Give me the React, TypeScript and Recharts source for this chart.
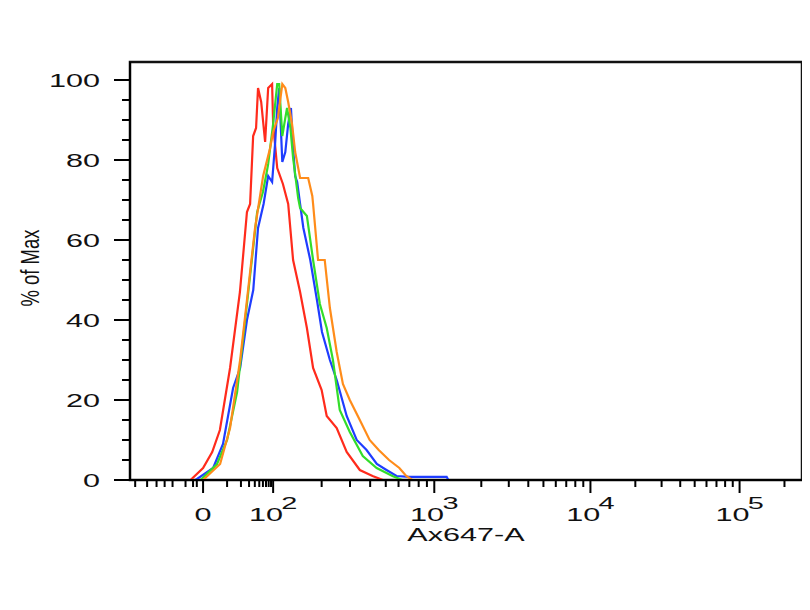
import * as React from 'react'
import { LineChart, Line, XAxis, YAxis, ReferenceArea } from 'recharts'

// histogram traces: [intensity, % of max]
const RED: [number, number][] = [
  [-100, 0], [-5, 0], [0, 3], [3.8, 7], [7, 12.5], [11.6, 28], [19, 47], [27, 67],
  [31.6, 69], [36.8, 86], [42.6, 88], [47, 98], [55, 94.5], [67, 84.5], [78, 98],
  [95, 99], [100, 89], [106, 78], [115, 74], [124, 69], [133, 55], [147, 47],
  [162, 38], [177, 28], [200, 22.5], [215, 16], [248, 13], [286, 7], [345, 2.5],
  [414, 1], [480, 0], [262144, 0],
]

const BLUE: [number, number][] = [
  [-100, 0], [-3, 0], [4.2, 3], [8.3, 9], [13.5, 23], [19.2, 28], [27, 40], [37, 47.5],
  [47, 63], [62, 69], [78, 76], [95, 74.5], [103, 84.5], [106, 93], [109, 98],
  [114, 79.5], [119, 82], [124, 89], [129, 93], [133, 83], [137, 76], [141, 74.5],
  [147, 69], [154, 63], [170, 55], [187, 45], [201, 37], [225, 30], [248, 25],
  [286, 16], [330, 10], [380, 7.5], [440, 4], [505, 2.5], [583, 1], [700, 0.8],
  [1200, 0.8], [1230, 0], [262144, 0],
]

const GREEN: [number, number][] = [
  [-100, 0], [-1, 0], [5.8, 4], [10, 10], [16.5, 22], [27, 44], [45, 67], [60, 72],
  [74, 77.5], [78, 79], [100, 89], [106, 99], [109, 99], [114, 86], [119, 90.5],
  [122, 93], [128, 88], [133, 80.5], [143, 70.5], [147, 68], [162, 66], [177, 55],
  [195, 44], [215, 38], [235, 30], [259, 17.5], [299, 12], [360, 6], [439, 3],
  [550, 1], [633, 0], [262144, 0],
]

const ORANGE: [number, number][] = [
  [-100, 0], [0, 0], [7.1, 4], [11.6, 13], [19.2, 30], [27, 45], [40.5, 63],
  [60.6, 76], [86, 83], [100, 87], [107, 90.5], [114, 99], [119, 98], [124, 94.5],
  [131, 89], [137, 82], [147, 75.5], [154, 75.5], [165, 75.5], [175, 71], [177, 69],
  [190, 55], [209, 55], [225, 43], [248, 32], [271, 24], [299, 20], [345, 15],
  [397, 10], [452, 7.5], [524, 5], [607, 3], [670, 1], [730, 0], [262144, 0],
]

const SERIES = [
  { name: 'red', points: RED, color: '#ff2b1c' },
  { name: 'blue', points: BLUE, color: '#1f3dff' },
  { name: 'green', points: GREEN, color: '#33dd2a' },
  { name: 'orange', points: ORANGE, color: '#ff8c1a' },
]

const X_MAJOR = [0, 100, 1000, 10000, 100000]
const X_EXP = ['', '2', '3', '4', '5']
const X_NEG_MINOR = [-2.5, -4, -7, -13, -19, -28, -44, -78]
const X_MIN = -100
const X_MAX = 262144
const Y_MAX = 104.5
const Y_TICKS = [0, 5, 10, 15, 20, 25, 30, 35, 40, 45, 50, 55, 60, 65, 70, 75, 80, 85, 90, 95, 100]

const FONT = '"Liberation Sans", Arial, sans-serif'
const STRETCH = 1.7

// biexponential-like display: linear near zero, log above 10
const LIN_SLOPE = 2.4
const LOG_STOPS: [number, number][] = [[1, 24], [2, 70], [3, 231], [4, 387], [5, 536]]
const TOP_DECADE = 149
const NEG_SCALE = 73 / 70

function biex(v: number): number {
  if (v < 0) return -biex(-v) * NEG_SCALE
  if (v <= 10) return v * LIN_SLOPE
  const l = Math.log10(v)
  for (let i = 1; i < LOG_STOPS.length; i++) {
    const [l0, p0] = LOG_STOPS[i - 1]
    const [l1, p1] = LOG_STOPS[i]
    if (l <= l1) return p0 + ((l - l0) / (l1 - l0)) * (p1 - p0)
  }
  const [lt, pt] = LOG_STOPS[LOG_STOPS.length - 1]
  return pt + (l - lt) * TOP_DECADE
}

const minorTicks: number[] = [...X_NEG_MINOR, 200000]
for (let d = 10; d <= 10000; d *= 10) {
  for (let k = 1; k <= 9; k++) {
    if (k === 1 && d > 10) continue
    minorTicks.push(k * d)
  }
}

const X_MAJOR_POS = X_MAJOR.map(biex)
const X_TICKS = [...X_MAJOR, ...minorTicks].map(biex).sort((a, b) => a - b)

const XTick = (props: any) => {
  const { x, y, payload } = props
  const i = X_MAJOR_POS.indexOf(payload.value)
  const major = i >= 0
  return (
    <g>
      <line x1={x} x2={x} y1={y} y2={y + (major ? 13 : 7)} stroke="#000" strokeWidth={2} />
      {major && (
        <text
          transform={`translate(${x},${y + 41}) scale(${STRETCH},1)`}
          textAnchor="middle"
          fontSize={18}
          fontFamily={FONT}
          fill="#111"
        >
          {i === 0 ? (
            '0'
          ) : (
            <>
              <tspan>10</tspan>
              <tspan dx={-1} dy={-12} fontSize={17}>{X_EXP[i]}</tspan>
            </>
          )}
        </text>
      )}
    </g>
  )
}

const YTick = (props: any) => {
  const { x, y, payload } = props
  const major = payload.value % 20 === 0
  return (
    <g>
      <line x1={x - (major ? 16 : 8)} x2={x} y1={y} y2={y} stroke="#000" strokeWidth={2} />
      {major && (
        <text
          transform={`translate(${x - 30},${y + 6.5}) scale(${STRETCH},1)`}
          textAnchor="end"
          fontSize={18}
          fontFamily={FONT}
          fill="#111"
        >
          {payload.value}
        </text>
      )}
    </g>
  )
}

const XTitle = (props: any) => {
  const { x, y, width } = props.viewBox
  return (
    <text
      transform={`translate(${x + width / 2},${y + 61}) scale(${STRETCH},1)`}
      textAnchor="middle"
      fontSize={18}
      fontFamily={FONT}
      fill="#111"
    >
      Ax647-A
    </text>
  )
}

const YTitle = (props: any) => {
  const { x, y, width, height } = props.viewBox
  return (
    <text
      transform={`translate(${x + width - 91},${y + height / 2 - 3}) scale(${STRETCH},1) rotate(-90)`}
      textAnchor="middle"
      fontSize={15}
      fontFamily={FONT}
      textLength={77}
      lengthAdjust="spacingAndGlyphs"
      fill="#111"
    >
      % of Max
    </text>
  )
}

export default function App() {
  const domain: [number, number] = [biex(X_MIN), biex(X_MAX)]
  return (
    <LineChart width={800} height={600} margin={{ top: 54, right: 6, bottom: 38, left: 2 }}>
      <XAxis
        xAxisId="main"
        type="number"
        dataKey="x"
        domain={domain}
        allowDataOverflow
        ticks={X_TICKS}
        interval={0}
        tick={<XTick />}
        tickLine={false}
        tickSize={0}
        tickMargin={0}
        height={90}
        axisLine={{ stroke: '#000', strokeWidth: 2 }}
        label={<XTitle />}
      />
      <YAxis
        yAxisId="main"
        type="number"
        domain={[0, Y_MAX]}
        allowDataOverflow
        ticks={Y_TICKS}
        interval={0}
        tick={<YTick />}
        tickLine={false}
        tickSize={0}
        tickMargin={0}
        width={120}
        axisLine={{ stroke: '#000', strokeWidth: 2 }}
        label={<YTitle />}
      />
      <ReferenceArea
        xAxisId="main"
        yAxisId="main"
        x1={domain[0]}
        x2={domain[1]}
        y1={0}
        y2={Y_MAX}
        fill="none"
        stroke="#111"
        strokeWidth={2.5}
        ifOverflow="visible"
      />
      {SERIES.map((s) => (
        <Line
          key={s.name}
          xAxisId="main"
          yAxisId="main"
          data={s.points.map(([v, pct]) => ({ x: biex(v), y: pct }))}
          dataKey="y"
          type="linear"
          stroke={s.color}
          strokeWidth={2.2}
          dot={false}
          isAnimationActive={false}
        />
      ))}
    </LineChart>
  )
}
